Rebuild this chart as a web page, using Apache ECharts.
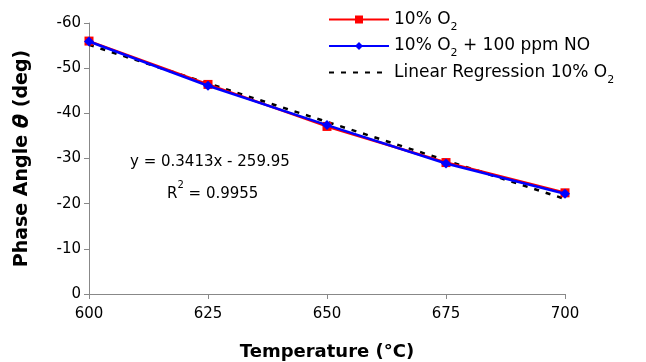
<!DOCTYPE html>
<html><head><meta charset="utf-8">
<script src="https://cdn.jsdelivr.net/npm/echarts@6/dist/echarts.min.js"></script>
<style>html,body{margin:0;padding:0;background:#fff}#c{width:646px;height:362px}</style>
</head><body><div id="c"></div>
<script>
const temps = [600, 625, 650, 675, 700];
const o2 = [-56, -46.4, -37.1, -29.1, -22.4];
const o2no = [-55.9, -46.1, -37.4, -28.9, -22.2];
const regSlope = 0.3413, regIntercept = -259.95;
const regX = [600, 700];
const yTicks = [-60, -50, -40, -30, -20, -10, 0];

const F = '"DejaVu Sans", sans-serif';
const chart = echarts.init(document.getElementById('c'));
const rich = {
  t: {fontSize: 17, fontFamily: F, color: '#000', lineHeight: 20},
  s: {fontSize: 11, fontFamily: F, color: '#000', verticalAlign: 'bottom', lineHeight: 20, padding: [0, 0, -3, 0]}
};
const legendFmt = {
  '10% O2': '{t|10% O}{s|2}',
  '10% O2 + 100 ppm NO': '{t|10% O}{s|2}{t| + 100 ppm NO}',
  'Linear Regression 10% O2': '{t|Linear Regression 10% O}{s|2}'
};
chart.setOption({
  animation: false,
  grid: {left: 89, right: 81, top: 23, bottom: 68, outerBoundsMode: 'none', containLabel: false},
  legend: {
    orient: 'vertical', left: 323, top: 6, itemWidth: 60, itemHeight: 10, itemGap: 5,
    data: ['10% O2', '10% O2 + 100 ppm NO', {name: 'Linear Regression 10% O2', itemStyle: {opacity: 0}}],
    formatter: n => legendFmt[n],
    textStyle: {rich: rich, fontSize: 17, fontFamily: F}
  },
  xAxis: {
    type: 'value', min: 600, max: 700, interval: 25,
    axisLine: {lineStyle: {color: '#888', width: 1}},
    axisTick: {show: true, length: 5, lineStyle: {color: '#888'}},
    axisLabel: {color: '#000', fontSize: 15, fontFamily: F, margin: 13},
    splitLine: {show: false},
    name: 'Temperature (°C)', nameLocation: 'middle', nameGap: 49,
    nameTextStyle: {color: '#000', fontSize: 18, fontWeight: 'bold', fontFamily: F}
  },
  yAxis: {
    type: 'value', min: -60, max: 0, interval: 10, inverse: true,
    axisLine: {show: true, lineStyle: {color: '#888', width: 1}},
    axisTick: {show: true, length: 5, lineStyle: {color: '#888'}},
    axisLabel: {color: '#000', fontSize: 15, fontFamily: F, margin: 8},
    splitLine: {show: false},
    name: '{b|Phase Angle }{i|θ}{b| (deg)}', nameLocation: 'middle', nameGap: 56, nameRotate: 90,
    nameTextStyle: {rich: {
      b: {fontSize: 19, fontWeight: 'bold', fontFamily: F, color: '#000'},
      i: {fontSize: 21, fontWeight: 'bold', fontStyle: 'italic', fontFamily: F, color: '#000'}
    }}
  },
  series: [
    {
      name: 'Linear Regression 10% O2', type: 'line', z: 3,
      data: regX.map(x => [x, regSlope * x + regIntercept]),
      symbol: 'none', itemStyle: {color: '#000'},
      lineStyle: {color: '#000', width: 2.5, type: [5, 7]}
    },
    {
      name: '10% O2', type: 'line', z: 4,
      data: temps.map((t, i) => [t, o2[i]]),
      symbol: 'rect', symbolSize: 9,
      itemStyle: {color: '#ff0000'}, lineStyle: {color: '#ff0000', width: 2.5}
    },
    {
      name: '10% O2 + 100 ppm NO', type: 'line', z: 5,
      data: temps.map((t, i) => [t, o2no[i]]),
      symbol: 'diamond', symbolSize: 10,
      itemStyle: {color: '#0000ff'}, lineStyle: {color: '#0000ff', width: 2.5}
    }
  ],
  graphic: [
    {type: 'text', left: 130, top: 155, style: {text: 'y = 0.3413x - 259.95', fontSize: 15, fontFamily: F, fill: '#000'}},
    {type: 'text', left: 167, top: 180, style: {text: '{t|R}{p|2}{t| = 0.9955}', rich: {
      t: {fontSize: 15, fontFamily: F, fill: '#000', lineHeight: 20},
      p: {fontSize: 10, fontFamily: F, fill: '#000', verticalAlign: 'top', lineHeight: 20, padding: [-4, 0, 0, 0]}
    }}}
  ]
});
</script></body></html>
